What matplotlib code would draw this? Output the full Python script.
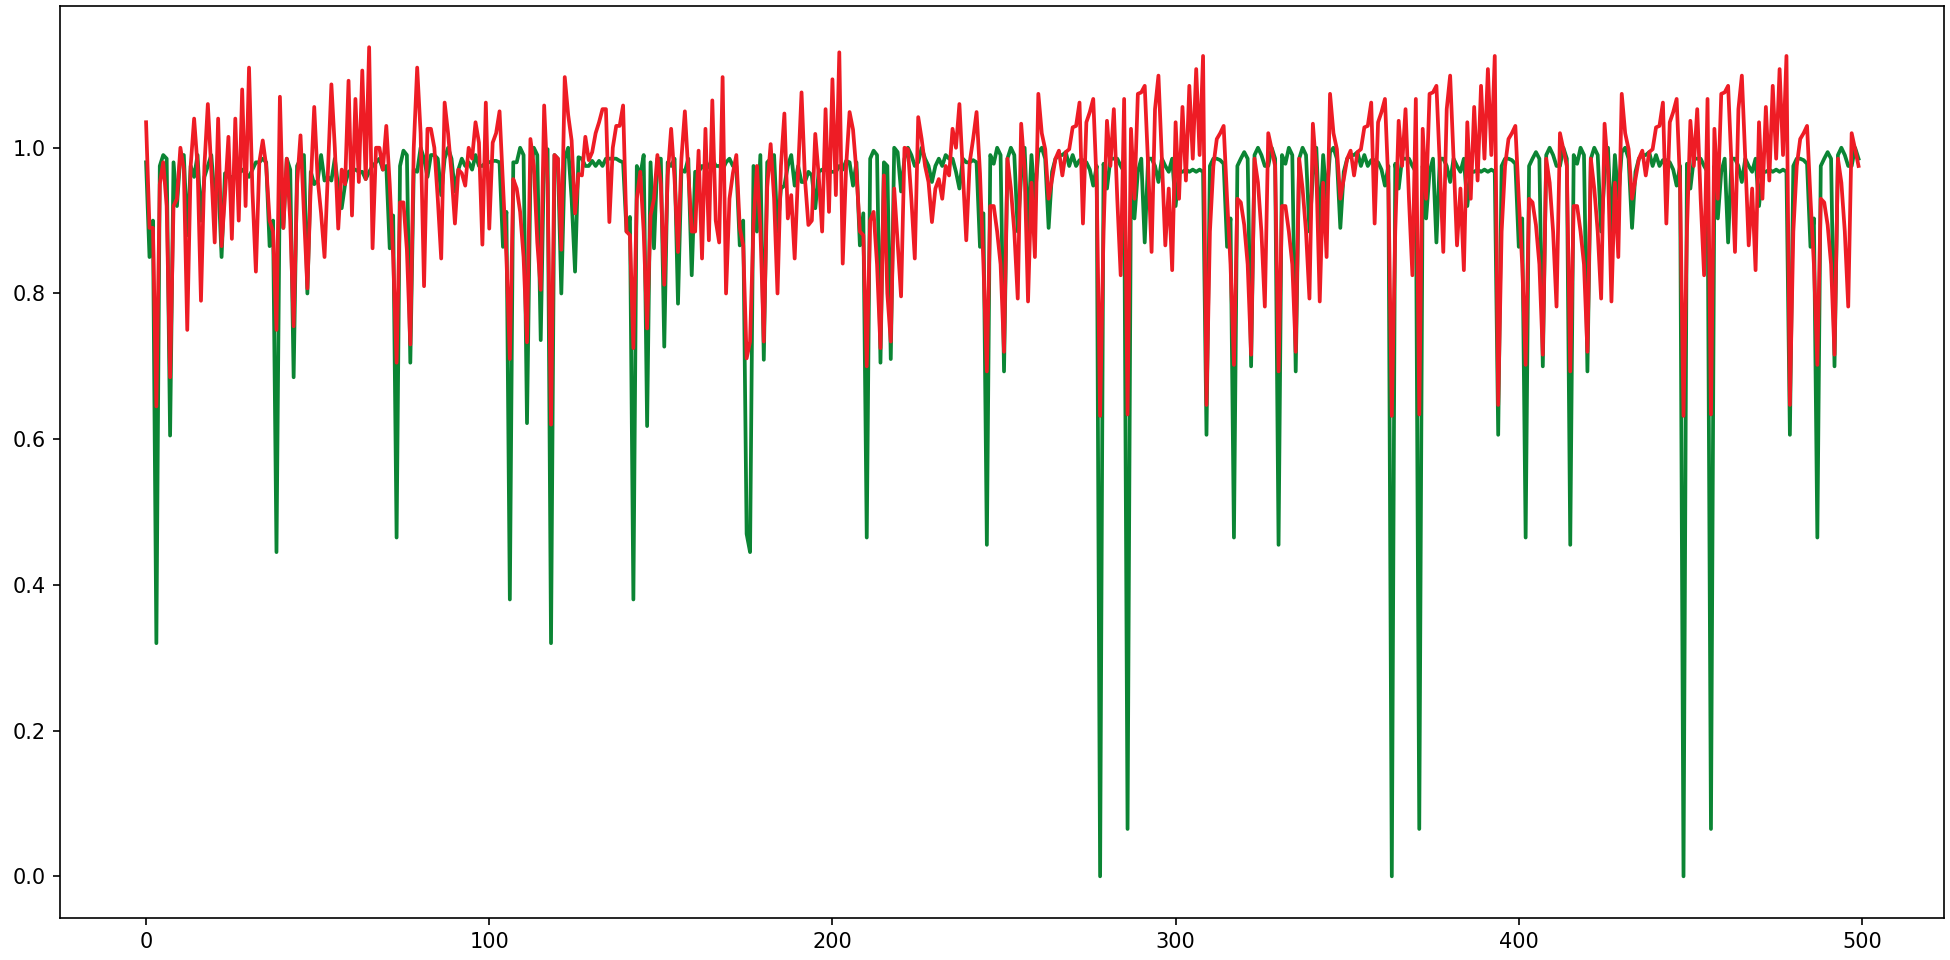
import matplotlib
matplotlib.use("Agg")
import matplotlib.pyplot as plt

# green series (index 0..499)
green = [
    0.98, 0.85, 0.90, 0.32, 0.975, 0.99, 0.985, 0.605, 0.98, 0.92,
    0.99, 0.99, 0.88, 0.975, 0.96, 0.99, 0.90, 0.96, 0.975, 0.99,
    0.93, 0.96, 0.85, 0.965, 0.96, 0.96, 0.96, 0.965, 0.97, 0.965,
    0.96, 0.97, 0.98, 0.98, 0.985, 0.98, 0.865, 0.90, 0.445, 0.975,
    0.89, 0.985, 0.97, 0.685, 0.975, 0.985, 0.99, 0.80, 0.967, 0.95,
    0.955, 0.99, 0.955, 0.96, 0.955, 0.985, 0.945, 0.917, 0.95, 0.967,
    0.97, 0.97, 0.967, 0.967, 0.957, 0.967, 0.975, 0.98, 0.985, 0.97,
    0.975, 0.862, 0.907, 0.465, 0.975, 0.996, 0.99, 0.705, 0.97, 0.967,
    1.0, 0.985, 0.96, 0.99, 0.99, 0.985, 0.935, 0.985, 1.0, 0.985,
    0.94, 0.97, 0.985, 0.975, 0.98, 0.97, 0.99, 0.975, 0.975, 0.98,
    0.98, 0.982, 0.982, 0.98, 0.864, 0.912, 0.38, 0.98, 0.98, 1.0,
    0.99, 0.622, 0.963, 1.0, 0.99, 0.736, 0.998, 0.998, 0.32, 0.99,
    0.985, 0.80, 0.985, 1.0, 0.93, 0.83, 0.987, 0.985, 0.975, 0.975,
    0.982, 0.975, 0.982, 0.975, 0.985, 0.985, 0.985, 0.985, 0.982, 0.98,
    0.885, 0.905, 0.38, 0.975, 0.962, 0.99, 0.618, 0.98, 0.862, 0.985,
    0.985, 0.727, 0.98, 0.975, 0.985, 0.786, 0.97, 0.967, 0.985, 0.825,
    0.967, 0.967, 0.975, 0.97, 0.975, 0.985, 0.975, 0.975, 0.97, 0.98,
    0.985, 0.975, 0.975, 0.866, 0.90, 0.47, 0.445, 0.975, 0.885, 0.99,
    0.709, 0.98, 0.985, 0.99, 0.885, 0.944, 0.948, 0.975, 0.99, 0.948,
    0.975, 0.953, 0.953, 0.967, 0.962, 0.917, 0.967, 0.97, 0.97, 0.967,
    0.967, 0.967, 0.975, 0.97, 0.982, 0.98, 0.948, 0.98, 0.866, 0.91,
    0.465, 0.985, 0.996, 0.99, 0.705, 0.98, 0.975, 0.71, 1.0, 0.994,
    0.94, 0.985, 1.0, 0.99, 0.975, 0.98, 1.0, 0.985, 0.975, 0.953,
    0.975, 0.985, 0.975, 0.99, 0.985, 0.985, 0.967, 0.944, 0.985, 0.98,
    0.98, 0.983, 0.98, 0.864, 0.91, 0.455, 0.99, 0.978, 1.0, 0.99,
    0.693, 0.985, 1.0, 0.99, 0.885, 0.962, 1.0, 0.885, 0.99, 0.93,
    0.994, 1.0, 0.985, 0.89, 0.967, 0.985, 0.99, 0.99, 0.994, 0.975,
    0.99, 0.975, 0.983, 0.983, 0.98, 0.97, 0.948, 0.975, 0.0, 0.978,
    0.944, 0.985, 0.985, 0.985, 0.975, 0.967, 0.065, 0.975, 0.903, 0.967,
    0.985, 0.87, 0.985, 0.985, 0.975, 0.953, 0.985, 0.975, 0.967, 0.985,
    0.92, 0.967, 0.967, 0.97, 0.967, 0.97, 0.967, 0.97, 0.967, 0.606,
    0.975, 0.985, 0.985, 0.983, 0.978, 0.864, 0.903, 0.465, 0.975, 0.985,
    0.994, 0.985, 0.70, 0.99, 1.0, 0.99, 0.975, 0.975, 1.0, 0.985,
    0.455, 0.99, 0.978, 1.0, 0.99, 0.693, 0.985, 1.0, 0.99, 0.885,
    0.962, 1.0, 0.885, 0.99, 0.93, 0.994, 1.0, 0.985, 0.89, 0.967,
    0.985, 0.99, 0.99, 0.994, 0.975, 0.99, 0.975, 0.983, 0.983, 0.98,
    0.97, 0.948, 0.975, 0.0, 0.978, 0.944, 0.985, 0.985, 0.985, 0.975,
    0.967, 0.065, 0.975, 0.903, 0.967, 0.985, 0.87, 0.985, 0.985, 0.975,
    0.953, 0.985, 0.975, 0.967, 0.985, 0.92, 0.967, 0.967, 0.97, 0.967,
    0.97, 0.967, 0.97, 0.967, 0.606, 0.975, 0.985, 0.985, 0.983, 0.978,
    0.864, 0.903, 0.465, 0.975, 0.985, 0.994, 0.985, 0.70, 0.99, 1.0,
    0.99, 0.975, 0.975, 1.0, 0.985, 0.455, 0.99, 0.978, 1.0, 0.99,
    0.693, 0.985, 1.0, 0.99, 0.885, 0.962, 1.0, 0.885, 0.99, 0.93,
    0.994, 1.0, 0.985, 0.89, 0.967, 0.985, 0.99, 0.99, 0.994, 0.975,
    0.99, 0.975, 0.983, 0.983, 0.98, 0.97, 0.948, 0.975, 0.0, 0.978,
    0.944, 0.985, 0.985, 0.985, 0.975, 0.967, 0.065, 0.975, 0.903, 0.967,
    0.985, 0.87, 0.985, 0.985, 0.975, 0.953, 0.985, 0.975, 0.967, 0.985,
    0.92, 0.967, 0.967, 0.97, 0.967, 0.97, 0.967, 0.97, 0.967, 0.606,
    0.975, 0.985, 0.985, 0.983, 0.978, 0.864, 0.903, 0.465, 0.975, 0.985,
    0.994, 0.985, 0.70, 0.99, 1.0, 0.99, 0.975, 0.975, 1.0, 0.985,
]

# red series (index 0..499)
red = [
    1.035, 0.89, 0.89, 0.645, 0.95, 0.98, 0.92, 0.685, 0.92, 0.93,
    1.0, 0.97, 0.75, 0.975, 1.04, 0.975, 0.79, 0.975, 1.06, 0.97,
    0.87, 1.04, 0.865, 0.935, 1.015, 0.875, 1.04, 0.90, 1.08, 0.92,
    1.11, 0.94, 0.83, 0.98, 1.01, 0.975, 0.90, 0.885, 0.75, 1.07,
    0.89, 0.985, 0.90, 0.755, 0.95, 1.017, 0.91, 0.807, 0.95, 1.056,
    0.957, 0.91, 0.85, 0.967, 1.087, 1.0, 0.889, 0.97, 0.95, 1.092,
    0.907, 1.067, 0.953, 1.106, 0.957, 1.138, 0.862, 1.0, 1.0, 0.97,
    1.03, 0.95, 0.85, 0.705, 0.925, 0.925, 0.86, 0.73, 1.0, 1.11,
    1.02, 0.81, 1.026, 1.026, 1.0, 0.93, 0.848, 1.062, 1.02, 0.965,
    0.896, 0.97, 0.965, 0.948, 1.0, 0.985, 1.035, 1.007, 0.867, 1.062,
    0.889, 1.007, 1.02, 1.05, 0.95, 0.85, 0.71, 0.957, 0.944, 0.912,
    0.85, 0.733, 1.012, 0.975, 0.87, 0.805, 1.058, 0.95, 0.62, 0.99,
    0.985, 0.86, 1.097, 1.045, 1.01, 0.91, 0.964, 0.962, 1.015, 0.983,
    0.994, 1.02, 1.035, 1.053, 1.053, 0.898, 1.0, 1.03, 1.03, 1.058,
    0.885, 0.88, 0.725, 0.93, 0.967, 0.885, 0.752, 0.907, 0.93, 0.99,
    0.95, 0.812, 0.962, 1.026, 0.957, 0.857, 0.985, 1.05, 0.967, 0.885,
    0.885, 0.996, 0.848, 1.026, 0.873, 1.065, 0.90, 0.87, 1.097, 0.80,
    0.93, 0.965, 0.99, 0.89, 0.866, 0.711, 0.734, 0.894, 0.975, 0.89,
    0.734, 0.946, 1.005, 0.93, 0.80, 0.975, 1.047, 0.903, 0.935, 0.848,
    0.967, 1.076, 0.957, 0.894, 0.90, 1.019, 0.962, 0.885, 1.053, 0.912,
    1.094, 0.935, 1.131, 0.841, 0.975, 1.049, 1.025, 0.967, 0.885, 0.88,
    0.70, 0.90, 0.912, 0.84, 0.725, 0.962, 0.80, 0.734, 0.944, 0.87,
    0.796, 1.0, 0.998, 0.93, 0.848, 1.042, 1.012, 0.975, 0.953, 0.898,
    0.944, 0.957, 0.93, 0.975, 0.962, 1.026, 1.0, 1.06, 0.967, 0.873,
    0.98, 1.012, 1.049, 0.965, 0.84, 0.693, 0.92, 0.92, 0.885, 0.84,
    0.72, 0.985, 0.944, 0.885, 0.793, 1.033, 0.97, 0.789, 0.952, 0.85,
    1.074, 1.02, 0.998, 0.93, 0.957, 0.985, 0.996, 0.962, 0.994, 0.998,
    1.028, 1.03, 1.062, 0.896, 1.035, 1.049, 1.067, 0.95, 0.632, 0.885,
    1.037, 0.975, 1.053, 0.93, 0.825, 1.067, 0.634, 1.026, 0.93, 1.074,
    1.076, 1.085, 0.975, 0.857, 1.053, 1.099, 0.985, 0.866, 0.944, 0.832,
    1.035, 0.93, 1.056, 0.955, 1.085, 0.985, 1.108, 0.99, 1.126, 0.647,
    0.885, 0.975, 1.012, 1.02, 1.03, 0.93, 0.84, 0.702, 0.93, 0.925,
    0.894, 0.84, 0.716, 0.985, 0.952, 0.885, 0.782, 1.02, 0.998, 0.975,
    0.693, 0.92, 0.92, 0.885, 0.84, 0.72, 0.985, 0.944, 0.885, 0.793,
    1.033, 0.97, 0.789, 0.952, 0.85, 1.074, 1.02, 0.998, 0.93, 0.957,
    0.985, 0.996, 0.962, 0.994, 0.998, 1.028, 1.03, 1.062, 0.896, 1.035,
    1.049, 1.067, 0.95, 0.632, 0.885, 1.037, 0.975, 1.053, 0.93, 0.825,
    1.067, 0.634, 1.026, 0.93, 1.074, 1.076, 1.085, 0.975, 0.857, 1.053,
    1.099, 0.985, 0.866, 0.944, 0.832, 1.035, 0.93, 1.056, 0.955, 1.085,
    0.985, 1.108, 0.99, 1.126, 0.647, 0.885, 0.975, 1.012, 1.02, 1.03,
    0.93, 0.84, 0.702, 0.93, 0.925, 0.894, 0.84, 0.716, 0.985, 0.952,
    0.885, 0.782, 1.02, 0.998, 0.975, 0.693, 0.92, 0.92, 0.885, 0.84,
    0.72, 0.985, 0.944, 0.885, 0.793, 1.033, 0.97, 0.789, 0.952, 0.85,
    1.074, 1.02, 0.998, 0.93, 0.957, 0.985, 0.996, 0.962, 0.994, 0.998,
    1.028, 1.03, 1.062, 0.896, 1.035, 1.049, 1.067, 0.95, 0.632, 0.885,
    1.037, 0.975, 1.053, 0.93, 0.825, 1.067, 0.634, 1.026, 0.93, 1.074,
    1.076, 1.085, 0.975, 0.857, 1.053, 1.099, 0.985, 0.866, 0.944, 0.832,
    1.035, 0.93, 1.056, 0.955, 1.085, 0.985, 1.108, 0.99, 1.126, 0.647,
    0.885, 0.975, 1.012, 1.02, 1.03, 0.93, 0.84, 0.702, 0.93, 0.925,
    0.894, 0.84, 0.716, 0.985, 0.952, 0.885, 0.782, 1.02, 0.998, 0.975,
]

steps = list(range(len(green)))

fig = plt.figure(figsize=(13, 6.4), dpi=150)
ax = fig.add_axes([0.031, 0.044, 0.966, 0.950])
ax.plot(steps, green, color="#0b8534", linewidth=1.8)
ax.plot(steps, red, color="#ee1c25", linewidth=1.8)
fig.savefig("out.png", dpi=150)
